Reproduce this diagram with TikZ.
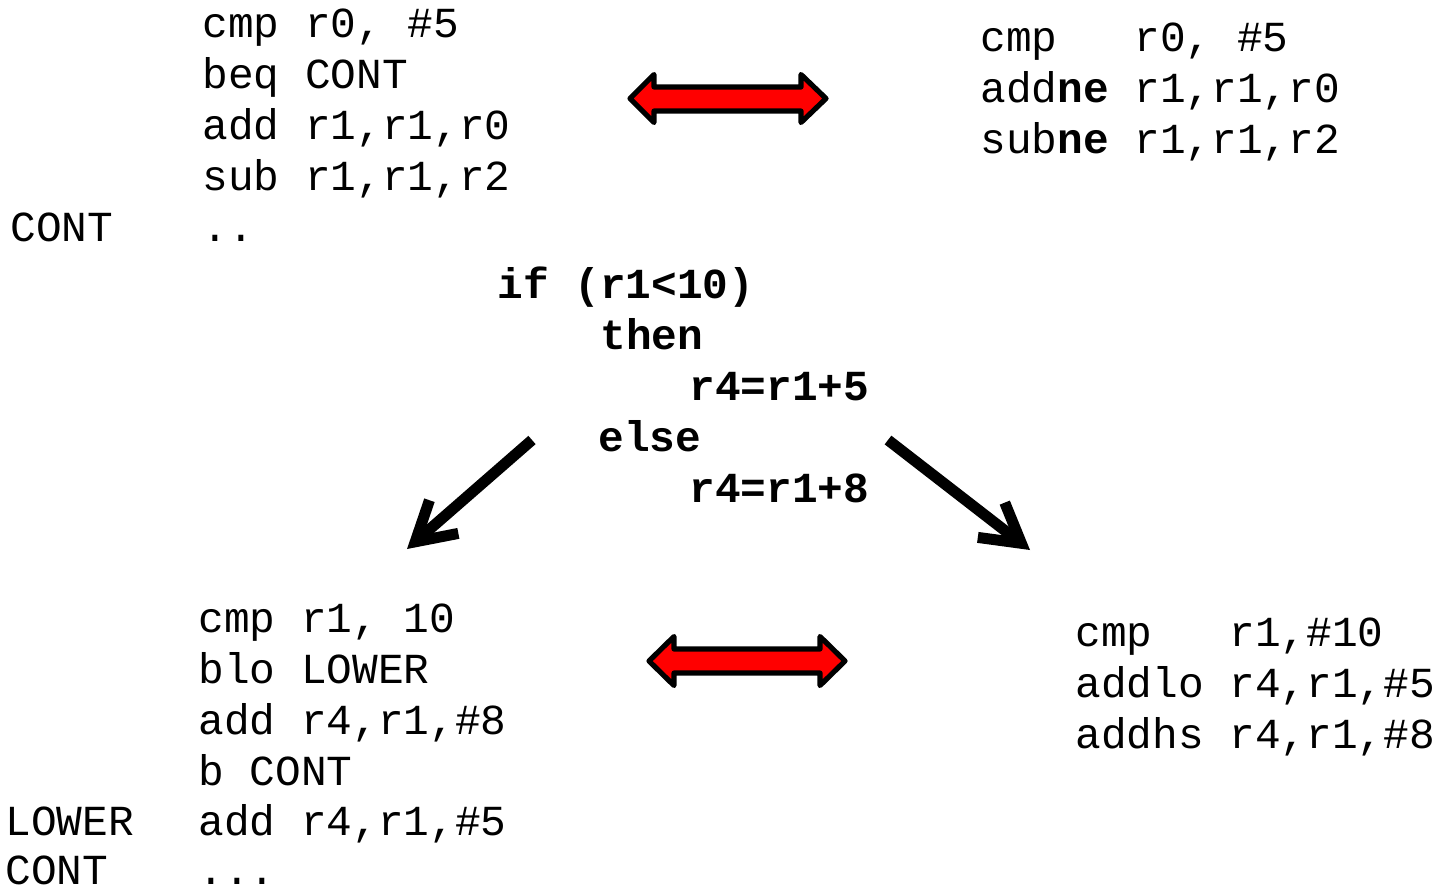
\documentclass[tikz,border=0pt]{standalone}
\usepackage{fontspec}
\usetikzlibrary{arrows.meta}
\newfontfamily\asmfont{Liberation Mono}
\tikzset{
  asm/.style={anchor=base west, inner sep=0pt, font=\asmfont\fontsize{21.4pt}{25.5pt}\selectfont},
  hilvl/.style={asm, font=\asmfont\fontsize{21.4pt}{25.5pt}\selectfont\bfseries},
  swap/.style={draw=black, fill=red, line width=2.6pt, line join=round},
  branch/.style={draw=black, line width=5.5pt, -{Straight Barb[length=19pt,width=22pt]}}
}

\begin{document}
\begin{tikzpicture}[x=0.5pt,y=-0.5pt]
\useasboundingbox (0,0) rectangle (1434,889);

% branch version, condition on r0
\node[asm] (b1) at (202,37)  {cmp r0, \#5};
\node[asm] (b2) at (202,88)  {beq CONT};
\node[asm] (b3) at (202,139) {add r1,r1,r0};
\node[asm] (b4) at (202,190) {sub r1,r1,r2};
\node[asm] (b5) at (202,241) {..};
\node[asm] (bl) at (10,241)  {CONT};

% conditional execution version
\node[asm] (c1) at (980,51)  {cmp\ \ \ r0, \#5};
\node[asm] (c2) at (980,102) {add\textbf{ne} r1,r1,r0};
\node[asm] (c3) at (980,153) {sub\textbf{ne} r1,r1,r2};

% high level code
\node[hilvl] (h1) at (497,298) {if (r1<10)};
\node[hilvl] (h2) at (600,349) {then};
\node[hilvl] (h3) at (689,400) {r4=r1+5};
\node[hilvl] (h4) at (598,451) {else};
\node[hilvl] (h5) at (689,502) {r4=r1+8};

% branch version, if/else
\node[asm] (d1) at (198,632) {cmp r1, 10};
\node[asm] (d2) at (198,683) {blo LOWER};
\node[asm] (d3) at (198,734) {add r4,r1,\#8};
\node[asm] (d4) at (198,785) {b CONT};
\node[asm] (d5) at (198,835) {add r4,r1,\#5};
\node[asm] (d6) at (198,884) {...};
\node[asm] (dl1) at (5,835)  {LOWER};
\node[asm] (dl2) at (5,884)  {CONT};

% conditional execution version, if/else
\node[asm] (e1) at (1075,646) {cmp\ \ \ r1,\#10};
\node[asm] (e2) at (1075,697) {addlo r4,r1,\#5};
\node[asm] (e3) at (1075,748) {addhs r4,r1,\#8};

% red double arrows
\draw[swap] (630,98.5) -- (654,74.5) -- (654,87) -- (801,87) -- (801,74.5)
  -- (826,98.5) -- (801,122.5) -- (801,111) -- (654,111) -- (654,122.5) -- cycle;
\draw[swap] (649,661) -- (674,636.5) -- (674,649) -- (820,649) -- (820,636.5)
  -- (845,661) -- (820,685.5) -- (820,673) -- (674,673) -- (674,685.5) -- cycle;

% black arrows
\coordinate (lt) at (532,440);
\coordinate (lh) at (407,549);
\coordinate (rt) at (888,440);
\coordinate (rh) at (1030,550);
\draw[branch] (lt) -- (lh);
\draw[branch] (rt) -- (rh);
\end{tikzpicture}
\end{document}
